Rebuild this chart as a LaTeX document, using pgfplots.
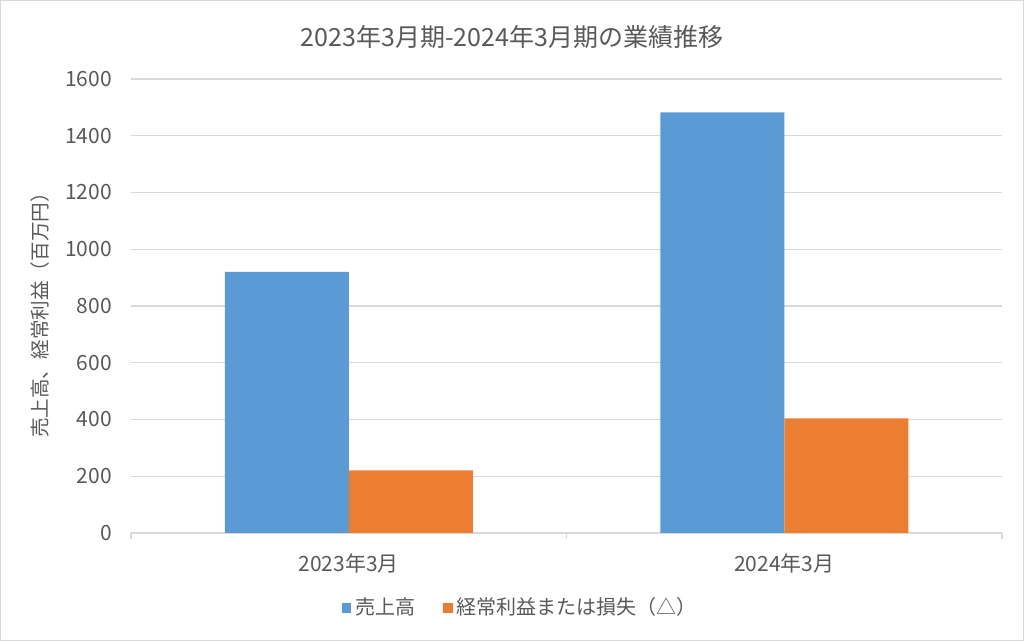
\documentclass[border=0pt]{standalone}
\usepackage{pgfplots}
\pgfplotsset{compat=1.18}
\usepackage{fontspec}
\setmainfont{Noto Sans CJK JP}
\definecolor{txt}{HTML}{595959}
\definecolor{grd}{HTML}{D9D9D9}
\definecolor{cblue}{HTML}{5B9BD5}
\definecolor{corange}{HTML}{ED7D31}
\begin{document}
\begin{tikzpicture}
\path[use as bounding box] (0,0) rectangle (512pt,320.5pt);
\draw[color=grd, line width=0.6pt] (0.3pt,0.3pt) rectangle (511.7pt,320.2pt);
\node[text=txt, font=\fontsize{12.5pt}{14pt}\selectfont, anchor=center] at (256pt,302pt) {2023年3月期-2024年3月期の業績推移};
\begin{axis}[
  at={(65.5pt,54pt)}, anchor=south west,
  scale only axis, width=435.5pt, height=227pt,
  ybar=0pt, bar width=62pt,
  xmin=-0.5, xmax=1.5, ymin=0, ymax=1600,
  xtick={0,1}, xticklabels={2023年3月,2024年3月},
  extra x ticks={-0.5,0.5,1.5}, extra x tick labels={},
  extra x tick style={major tick length=3pt, tick style={color=grd, line width=0.8pt}},
  ytick={0,200,...,1600},
  ymajorgrids, grid style={color=grd, line width=0.6pt},
  axis x line*=bottom, axis y line*=left,
  x axis line style={color=grd, line width=0.8pt, -},
  y axis line style={draw=none},
  major tick length=0pt,
  tick align=outside,
  /pgf/number format/assume math mode=true,
  /pgf/number format/1000 sep={},
  ticklabel style={text=txt, font=\fontsize{10.5pt}{12pt}\selectfont},
  yticklabel style={anchor=east, xshift=-6pt},
  xticklabel style={anchor=north, yshift=-7pt},
  ylabel={売上高、経常利益（百万円）},
  ylabel style={at={(axis description cs:-0.1045,0.49)}, anchor=center, text=txt, font=\fontsize{9.8pt}{11pt}\selectfont},
  legend style={at={(axis description cs:0.448,-0.165)}, anchor=center, legend columns=2, draw=none, fill=none, text=txt, font=\fontsize{10pt}{11pt}\selectfont, /tikz/every even column/.append style={column sep=12pt}},
  legend image code/.code={\fill[#1] (0pt,-2.4pt) rectangle (4.8pt,2.4pt);},
]
\addplot[fill=cblue, draw=none] coordinates {(0,920) (1,1482)};
\addplot[fill=corange, draw=none] coordinates {(0,221) (1,404)};
\legend{売上高,経常利益または損失（△）}
\end{axis}
\end{tikzpicture}
\end{document}
